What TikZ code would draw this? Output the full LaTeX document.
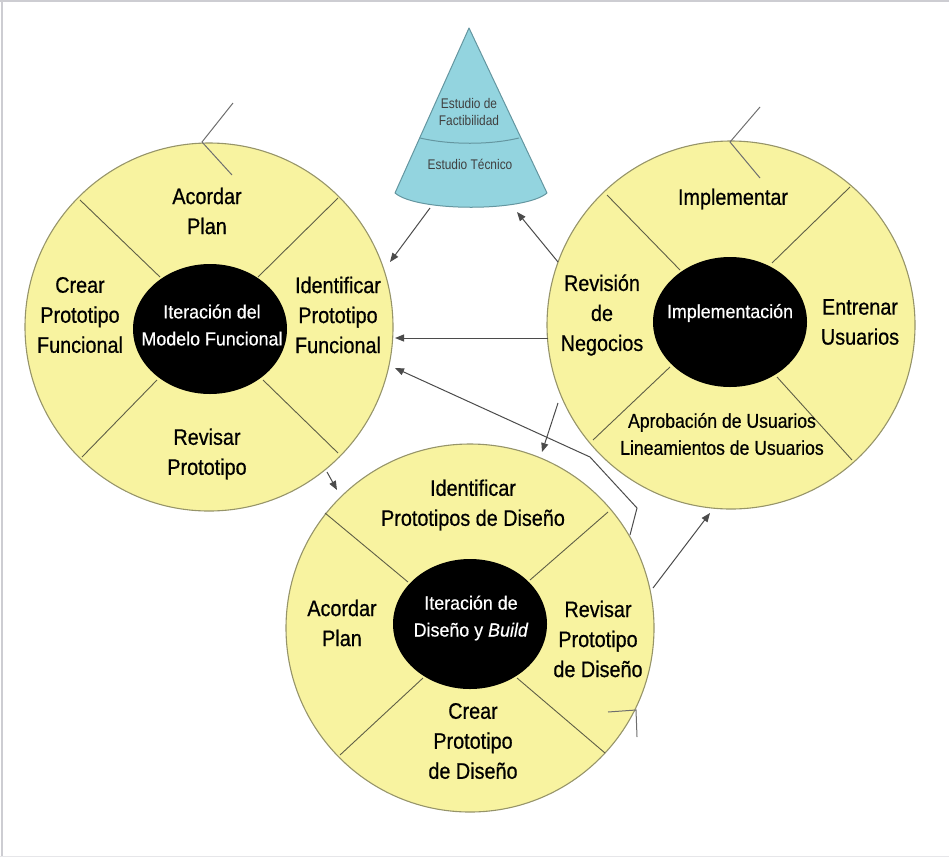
\documentclass[tikz,border=0pt]{standalone}
\usepackage{fontspec}
\setmainfont{Liberation Sans}
\newfontfamily\narrowsans[FakeStretch=0.88, FakeBold=0.6]{Liberation Sans}
\newfontfamily\coresans[FakeStretch=0.94, FakeBold=0.5]{Liberation Sans}
\newfontfamily\conesans[FakeStretch=0.85]{Liberation Sans}
\usetikzlibrary{shapes.geometric,arrows.meta}

\definecolor{phasefill}{RGB}{248,243,160}
\definecolor{phaseline}{RGB}{150,148,105}
\definecolor{divline}{RGB}{95,95,70}
\definecolor{conefill}{RGB}{147,212,223}
\definecolor{coneline}{RGB}{100,150,160}
\definecolor{flowgray}{RGB}{75,75,75}
\definecolor{tickgray}{RGB}{110,110,110}
\definecolor{framegray}{RGB}{205,205,210}

\tikzset{
  phase/.style={circle, draw=phaseline, fill=phasefill, line width=1.1pt,
                minimum size=368pt, inner sep=0pt},
  core/.style={ellipse, fill=black, minimum width=154pt, minimum height=130pt, inner sep=0pt},
  steptext/.style={font=\narrowsans\fontsize{22.5}{30}\selectfont, align=center,
                   text=black, inner sep=0pt},
  smallsteptext/.style={font=\narrowsans\fontsize{20}{27}\selectfont, align=center,
                   text=black, inner sep=0pt},
  coretext/.style={font=\coresans\fontsize{19}{27}\selectfont, align=center,
                   text=white, inner sep=0pt},
  conetext/.style={font=\conesans\fontsize{14}{17}\selectfont, align=center,
                   text=black!75, inner sep=0pt},
  divider/.style={draw=divline, line width=0.9pt},
  flow/.style={draw=flowgray, line width=1pt, -{Triangle[length=9pt,width=7pt]}},
  tick/.style={draw=tickgray, line width=1pt}
}

\begin{document}
\begin{tikzpicture}[x=1pt,y=-1pt]
\useasboundingbox (0,0) rectangle (949,857);

% frame
\draw[framegray, line width=1.6pt] (0,1) -- (949,1);
\draw[framegray, line width=1.6pt] (2,0) -- (2,857);
\draw[framegray!50, line width=1pt] (0,856.5) -- (949,856.5);

% ---------- functional model iteration ----------
\node[phase] (fm) at (209,327) {};
\draw[divider] (80,200) -- (160,277);
\draw[divider] (338,198) -- (258,277);
\draw[divider] (82,457) -- (157,380);
\draw[divider] (338,453) -- (263,380);
\node[core] (fmcore) at (210,329) {};
\node[coretext] (fmcoretext) at (212,325) {Iteración del\\Modelo Funcional};
\node[steptext] (fmplan) at (207,211) {Acordar\\Plan};
\node[steptext] (fmcreate) at (80,315) {Crear\\Prototipo\\Funcional};
\node[steptext] (fmident) at (338,315) {Identificar\\Prototipo\\Funcional};
\node[steptext] (fmreview) at (207,454) {Revisar\\Prototipo};

% ---------- implementation ----------
\node[phase] (im) at (731,325) {};
\draw[divider] (607,195) -- (680,270);
\draw[divider] (850,187) -- (772,263);
\draw[divider] (593,440) -- (670,367);
\draw[divider] (852,460) -- (777,377);
\node[core] (imcore) at (730,322) {};
\node[coretext] (imcoretext) at (730,313) {Implementación};
\node[steptext] (imimpl) at (733,199) {Implementar};
\node[steptext] (imbiz) at (602,315) {Revisión\\de\\Negocios};
\node[steptext] (imtrain) at (860,322) {Entrenar\\Usuarios};
\node[smallsteptext] (imapprove) at (722,434) {Aprobación de Usuarios\\Lineamientos de Usuarios};

% ---------- design and build iteration ----------
\node[phase] (db) at (470,628) {};
\draw[divider] (325,513) -- (408,582);
\draw[divider] (608,512) -- (530,580);
\draw[divider] (340,755) -- (423,678);
\draw[divider] (605,753) -- (517,678);
\node[core] (dbcore) at (470,624) {};
\node[coretext] (dbcoretext) at (471,618) {Iteración de\\Diseño y \textit{Build}};
\node[steptext] (dbident) at (473,505) {Identificar\\Prototipos de Diseño};
\node[steptext] (dbplan) at (342,623) {Acordar\\Plan};
\node[steptext] (dbreview) at (598,639) {Revisar\\Prototipo\\de Diseño};
\node[steptext] (dbcreate) at (473,741) {Crear\\Prototipo\\de Diseño};

% ---------- feasibility cone ----------
\draw[coneline, fill=conefill, line width=1pt, line join=round]
  (395,193) -- (469,28) -- (547,193)
  .. controls (525,212) and (417,212) .. (395,193) -- cycle;
\draw[coneline, line width=1pt] (420,138) .. controls (450,145) and (490,145) .. (519,138);
\node[conetext] (feas) at (469,112) {Estudio de\\Factibilidad};
\node[conetext] (tech) at (470,164) {Estudio Técnico};

% ---------- connector ends ----------
\coordinate (coneOut) at (430,208);
\coordinate (coneIn) at (517,212);
\coordinate (fmInTop) at (390,262);
\coordinate (fmInMid) at (395,338);
\coordinate (fmInLow) at (395,368);
\coordinate (fmOut) at (327,472);
\coordinate (imOutCone) at (558,262);
\coordinate (imOutMid) at (548,338);
\coordinate (imOutLow) at (558,403);
\coordinate (imIn) at (710,513);
\coordinate (dbInTop) at (542,452);
\coordinate (dbInLeft) at (337,490);
\coordinate (dbOut) at (653,588);
\coordinate (dbBackStart) at (630,535);
\coordinate (dbBackBend) at (637,508);
\coordinate (dbBackKnee) at (590,457);

% ---------- connectors ----------
\draw[flow] (coneOut) -- (fmInTop);
\draw[flow] (imOutCone) -- (coneIn);
\draw[flow] (imOutMid) -- (fmInMid);
\draw[flow] (dbBackStart) -- (dbBackBend) -- (dbBackKnee) -- (fmInLow);
\draw[flow] (imOutLow) -- (dbInTop);
\draw[flow] (fmOut) -- (dbInLeft);
\draw[flow] (dbOut) -- (imIn);

% small ticks
\draw[tick] (233,103) -- (202,142) -- (232,175);
\draw[tick] (760,107) -- (730,142) -- (760,178);
\draw[tick] (608,712) -- (636,710) -- (637,737);
\end{tikzpicture}
\end{document}
